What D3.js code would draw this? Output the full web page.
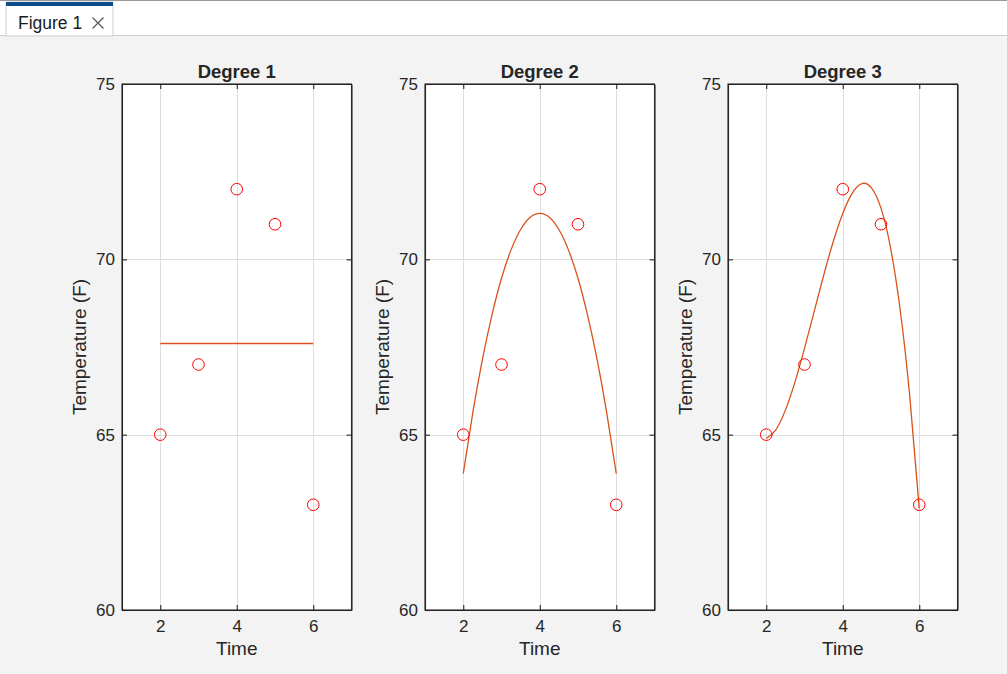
<!DOCTYPE html>
<html>
<head>
<meta charset="utf-8">
<script src="https://cdn.jsdelivr.net/npm/d3@7"></script>
<style>
  body { margin: 0; background: #f3f3f3; }
  svg { display: block; }
</style>
</head>
<body>
<script>
// data
var timeVals = [2, 3, 4, 5, 6];
var tempVals = [65, 67, 72, 71, 63];
var titles = ["Degree 1", "Degree 2", "Degree 3"];
var xTicks = [2, 4, 6];
var yTicks = [60, 65, 70, 75];
var fitX = [2, 2.25, 2.5, 2.75, 3, 3.25, 3.5, 3.75, 4, 4.25, 4.5, 4.75, 5, 5.25, 5.5, 5.75, 6];
var fit1 = [67.6, 67.6, 67.6, 67.6, 67.6, 67.6, 67.6, 67.6, 67.6, 67.6, 67.6, 67.6, 67.6, 67.6, 67.6, 67.6, 67.6];
var fit2 = [63.89, 65.63, 67.14, 68.41, 69.46, 70.27, 70.85, 71.2, 71.31, 71.2, 70.85, 70.27, 69.46, 68.41, 67.14, 65.63, 63.89];
var fit3 = [64.89, 65.14, 65.7, 66.5, 67.46, 68.5, 69.54, 70.5, 71.31, 71.89, 72.16, 72.04, 71.46, 70.33, 68.57, 66.12, 62.89];
var fits = [fit1, fit2, fit3];

var W = 1007, H = 674;
var plotLeft = 122, plotStep = 303, plotW = 229.5;
var plotTop = 84, plotBottom = 610;
var txt = "#262626";
var font = "'Liberation Sans', Arial, sans-serif";

var svg = d3.select("body").append("svg")
  .attr("width", W).attr("height", H);

svg.append("rect").attr("width", W).attr("height", H).attr("fill", "#f3f3f3");

// figure tab bar
svg.append("rect").attr("width", W).attr("height", 35).attr("fill", "#ffffff");
svg.append("line").attr("x1", 0).attr("x2", W).attr("y1", 0.5).attr("y2", 0.5)
  .attr("stroke", "#9a9a9a");
svg.append("line").attr("x1", 0).attr("x2", W).attr("y1", 35.5).attr("y2", 35.5)
  .attr("stroke", "#cfcfcf");
svg.append("rect").attr("x", 6).attr("y", 2).attr("width", 107).attr("height", 34)
  .attr("fill", "#ffffff").attr("stroke", "#cfcfcf");
svg.append("rect").attr("x", 6).attr("y", 2).attr("width", 107).attr("height", 4)
  .attr("fill", "#0e4c8a");
svg.append("text").attr("x", 18).attr("y", 28.5)
  .attr("font-family", font).attr("font-size", 17.5)
  .attr("fill", "#1a1a1a").text("Figure 1");
svg.append("path").attr("d", "M92.5,17.5 L103.5,28.5 M103.5,17.5 L92.5,28.5")
  .attr("stroke", "#555").attr("stroke-width", 1.2).attr("fill", "none");

var y = d3.scaleLinear().domain([60, 75]).range([plotBottom, plotTop]);

titles.forEach(function(title, i) {
  var x0 = plotLeft + i * plotStep;
  var x = d3.scaleLinear().domain([1, 7]).range([x0, x0 + plotW]);
  var g = svg.append("g");

  g.append("rect").attr("x", x0).attr("y", plotTop)
    .attr("width", plotW).attr("height", plotBottom - plotTop).attr("fill", "#ffffff");

  // grid
  g.selectAll(".gx").data(xTicks).enter().append("line")
    .attr("x1", function(d) { return Math.round(x(d)) + 0.5; })
    .attr("x2", function(d) { return Math.round(x(d)) + 0.5; })
    .attr("y1", plotTop).attr("y2", plotBottom)
    .attr("stroke", "#dedede");
  g.selectAll(".gy").data(yTicks).enter().append("line")
    .attr("y1", function(d) { return Math.round(y(d)) + 0.5; })
    .attr("y2", function(d) { return Math.round(y(d)) + 0.5; })
    .attr("x1", x0).attr("x2", x0 + plotW)
    .attr("stroke", "#dedede");

  // axes
  var fmt = d3.format("d");
  var xAxis = g.append("g").attr("transform", "translate(0," + plotBottom + ")")
    .call(d3.axisBottom(x).tickValues(xTicks).tickFormat(fmt).tickSizeInner(-5).tickSizeOuter(0).tickPadding(10));
  var xAxisTop = g.append("g").attr("transform", "translate(0," + plotTop + ")")
    .call(d3.axisTop(x).tickValues(xTicks).tickSizeInner(-5).tickSizeOuter(0).tickFormat(""));
  var yAxis = g.append("g").attr("transform", "translate(" + x0 + ",0)")
    .call(d3.axisLeft(y).tickValues(yTicks).tickFormat(fmt).tickSizeInner(-5).tickSizeOuter(0).tickPadding(7));
  var yAxisRight = g.append("g").attr("transform", "translate(" + (x0 + plotW) + ",0)")
    .call(d3.axisRight(y).tickValues(yTicks).tickSizeInner(-5).tickSizeOuter(0).tickFormat(""));

  [xAxis, xAxisTop, yAxis, yAxisRight].forEach(function(a) {
    a.attr("font-family", font).attr("font-size", 17);
    a.selectAll("path").attr("stroke", txt).attr("stroke-width", 1.1);
    a.selectAll("line").attr("stroke", txt).attr("stroke-width", 1.1);
    a.selectAll("text").attr("fill", txt);
  });
  // box outline
  g.append("rect").attr("x", x0).attr("y", plotTop)
    .attr("width", plotW).attr("height", plotBottom - plotTop)
    .attr("fill", "none").attr("stroke", txt).attr("stroke-width", 1.1);

  // fit curve
  var line = d3.line()
    .x(function(d, j) { return x(fitX[j]); })
    .y(function(d) { return y(d); })
    .curve(d3.curveNatural);
  g.append("path").datum(fits[i])
    .attr("d", line)
    .attr("fill", "none").attr("stroke", "#d95319").attr("stroke-width", 1.3);

  // data points
  g.selectAll(".pt").data(tempVals).enter().append("circle")
    .attr("cx", function(d, j) { return x(timeVals[j]); })
    .attr("cy", function(d) { return y(d); })
    .attr("r", 5.8)
    .attr("fill", "none").attr("stroke", "#ff0000").attr("stroke-width", 1);

  // labels
  g.append("text").attr("x", x0 + plotW / 2).attr("y", 77.5)
    .attr("text-anchor", "middle").attr("font-family", font)
    .attr("font-size", 18.5).attr("font-weight", "bold").attr("fill", txt).text(title);
  g.append("text").attr("x", x0 + plotW / 2).attr("y", 655)
    .attr("text-anchor", "middle").attr("font-family", font)
    .attr("font-size", 19).attr("fill", txt).text("Time");
  g.append("text")
    .attr("transform", "translate(" + (x0 - 36) + "," + ((plotTop + plotBottom) / 2) + ") rotate(-90)")
    .attr("text-anchor", "middle").attr("font-family", font)
    .attr("font-size", 19).attr("fill", txt).text("Temperature (F)");
});
</script>
</body>
</html>
